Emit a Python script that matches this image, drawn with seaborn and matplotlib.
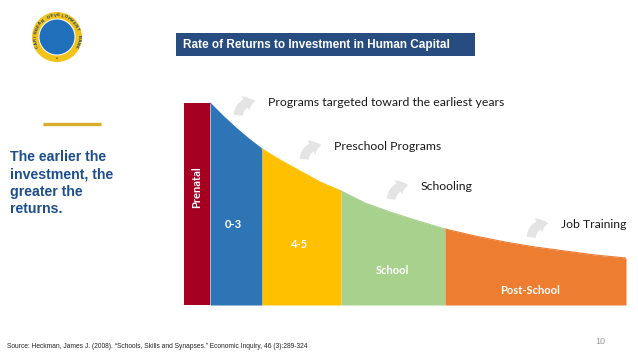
import numpy as np
import matplotlib
matplotlib.use("Agg")
import matplotlib.pyplot as plt
import seaborn as sns
from matplotlib.patches import Circle, Rectangle, FancyArrowPatch

sns.set_theme(style="white")
plt.rcParams['font.family'] = ['Liberation Sans', 'DejaVu Sans']

# ---------------- data ----------------
stages = ["Prenatal", "0-3", "4-5", "School", "Post-School"]
stage_edges = [0, 26, 78, 157, 261, 442]
stage_colors = ["#a50021", "#2e75b6", "#ffc000", "#a9d18e", "#ed7d31"]
prenatal_height = 202
curve_x = [26, 39, 52, 65, 78, 96, 116, 136, 157, 181, 206, 231, 261,
           291, 321, 351, 381, 411, 442]
curve_y = [202, 189, 177, 166, 156, 145, 134, 123, 114, 102, 93, 85, 76,
           69, 63, 58, 54, 50, 47]
programs = ["Programs targeted toward the earliest years",
            "Preschool Programs", "Schooling", "Job Training"]
title = "Rate of Returns to Investment in Human Capital"
side_text = "The earlier the\ninvestment, the\ngreater the\nreturns."
source = ("Source: Heckman, James J. (2008). \u201cSchools, Skills and Synapses.\u201d "
          "Economic Inquiry, 46 (3):289-324")
page_no = "10"

W, H = 638, 359
fig = plt.figure(figsize=(W / 100, H / 100), dpi=100)
fig.patch.set_facecolor("white")

# ---------------- chart axes ----------------
ax = fig.add_axes([184 / W, 54 / H, 442 / W, 205 / H])
ax.set_xlim(0, 442)
ax.set_ylim(0, 205)
ax.axis("off")

ax.bar((stage_edges[0] + stage_edges[1]) / 2, prenatal_height,
       width=stage_edges[1] - stage_edges[0], color=stage_colors[0], linewidth=0)
cx = np.array(curve_x, dtype=float)
cy = np.array(curve_y, dtype=float)
for i in range(1, len(stages)):
    m = (cx >= stage_edges[i]) & (cx <= stage_edges[i + 1])
    ax.fill_between(cx[m], 0, cy[m], color=stage_colors[i], linewidth=0)
    sns.lineplot(x=cx[m], y=cy[m], color=stage_colors[i], lw=0.8, ax=ax)

# ---------------- overlay (pixel coords) ----------------
ov = fig.add_axes([0, 0, 1, 1], zorder=5)
ov.set_xlim(0, W)
ov.set_ylim(H, 0)
ov.axis("off")
ov.patch.set_alpha(0)

# logo
cxl, cyl = 57, 37
ov.add_patch(Circle((cxl, cyl), 25, color="#f2c318", lw=0))
ov.add_patch(Circle((cxl, cyl), 18.5, color="white", lw=0))
ov.add_patch(Circle((cxl, cyl), 17.5, color="#1f6fba", lw=0))
logo_txt = "CARIBBEAN DEVELOPMENT BANK"
angs = np.linspace(205, -25, len(logo_txt))
for ch, a in zip(logo_txt, angs):
    r = 21.5
    x = cxl + r * np.cos(np.radians(a))
    y = cyl - r * np.sin(np.radians(a))
    ov.text(x, y, ch, fontsize=3.2, color="#1c3f78", ha="center", va="center",
            rotation=a - 90, fontweight="bold")
ov.text(cxl, cyl + 21.5, "\u2022", fontsize=4, color="#1c3f78", ha="center", va="center")

# title box
ov.add_patch(Rectangle((176, 33), 299, 23, color="#264c80", lw=0))
ov.text(183, 44.8, title, color="white", fontsize=8.5, fontweight="bold",
        ha="left", va="center")

# left message
ov.plot([43, 101], [124, 124], color="#d8ac2c", lw=2.4, solid_capstyle="butt")
ov.text(10, 150, side_text, color="#1f4e8c", fontsize=10.2, fontweight="bold",
        ha="left", va="top", linespacing=1.3)

# stage labels
lab_font = ["Lato", "DejaVu Sans"]
ov.text(197, 187, stages[0], rotation=90, color="white", fontsize=8,
        fontweight="bold", ha="center", va="center", family=lab_font)
lab_pos = [(233, 224), (299, 245), (392, 271), (530, 291)]
for name, (x, y) in zip(stages[1:], lab_pos):
    ov.text(x, y, name, color="white", fontsize=8, fontweight="bold",
            ha="center", va="center", family=lab_font)

# programme annotations with bent arrows
prog_pos = [(268, 103), (334, 147), (421, 187), (561, 225)]
for txt, (x, y) in zip(programs, prog_pos):
    ov.text(x, y, txt, color="#1a1a1a", fontsize=8.8, ha="left", va="center",
            family=lab_font)
    arr = FancyArrowPatch((x - 30, y + 15), (x - 10, y - 2),
                          connectionstyle="angle3,angleA=90,angleB=0",
                          arrowstyle="simple,head_length=0.6,head_width=1.0,tail_width=0.55",
                          mutation_scale=12, color="#e4e4e4", lw=0)
    ov.add_patch(arr)

# footer
ov.text(7, 347, source, fontsize=4.8, color="#222222", ha="left", va="center")
ov.text(600, 342, page_no, fontsize=6.5, color="#999999", ha="center", va="center")

fig.savefig("out.png", dpi=100, facecolor="white")
